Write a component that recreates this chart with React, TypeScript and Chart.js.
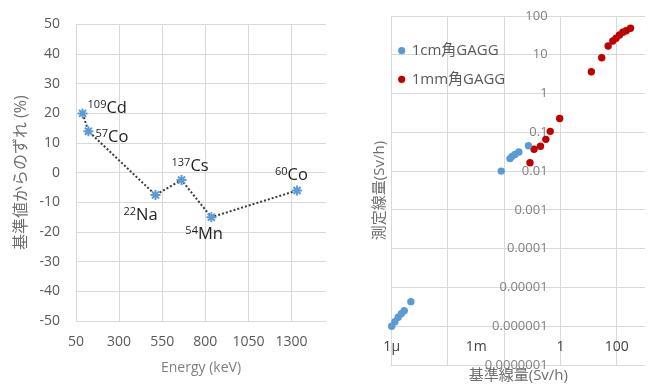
import React, { useEffect, useRef } from "react";
import { Chart, registerables } from "chart.js";
Chart.register(...registerables);

// ---------- Left chart data ----------
const energies = [88, 122, 511, 662, 835, 1332];
const deviations = [20, 14, -7.5, -2.5, -15, -6];
const massNumbers = ["109", "57", "22", "137", "54", "60"];
const elements = ["Cd", "Co", "Na", "Cs", "Mn", "Co"];
const energyTicks = [50, 300, 550, 800, 1050, 1300];
const deviationTicks = [50, 40, 30, 20, 10, 0, -10, -20, -30, -40, -50];

// ---------- Right chart data ----------
const ref1cm = [1e-6, 1.3e-6, 1.7e-6, 2.2e-6, 2.8e-6, 4.8e-6, 0.0078, 0.016, 0.019, 0.024, 0.033, 0.072];
const meas1cm = [1e-6, 1.3e-6, 1.7e-6, 2.1e-6, 2.5e-6, 4.3e-6, 0.01, 0.021, 0.024, 0.027, 0.031, 0.045];
const ref1mm = [0.082, 0.114, 0.193, 0.3, 0.43, 0.93, 12.4, 29, 49, 72, 94, 124, 164, 215, 306];
const meas1mm = [0.0165, 0.0365, 0.0437, 0.066, 0.106, 0.228, 3.66, 8.4, 16.8, 22.6, 26.6, 32.4, 38, 41.8, 48.2];
const doseGridX = [1e-6, 1e-4, 1e-2, 1, 100];
const doseLabelX = [1e-6, 1e-3, 1, 100];
const doseLabelXText = ["1µ", "1m", "1", "100"];
const doseTicksY = [100, 10, 1, 0.1, 0.01, 0.001, 0.0001, 0.00001, 0.000001, 0.0000001];
const doseTicksYText = ["100", "10", "1", "0.1", "0.01", "0.001", "0.0001", "0.00001", "0.000001", "0.0000001"];
const seriesNames = ["1cm角GAGG", "1mm角GAGG"];

// presentation: label offsets relative to point (dx to superscript start, dy to text middle)
const labelOffsets = [
  [5, -6], [7, 4.5], [-32, 19], [-10, -15], [-26, 15.5], [-22, -16],
];

const FONT = "'Open Sans', 'Noto Sans CJK JP', sans-serif";
const BLUE = "#5B9BD5";
const RED = "#C00000";
const GRID = "#d9d9d9";

const isotopeLabels = {
  id: "isotopeLabels",
  afterDatasetsDraw(chart: any) {
    const ctx = chart.ctx;
    const meta = chart.getDatasetMeta(0);
    ctx.save();
    ctx.fillStyle = "#1f1f1f";
    ctx.textBaseline = "alphabetic";
    ctx.textAlign = "left";
    meta.data.forEach((pt: any, i: number) => {
      const [dx, dy] = labelOffsets[i];
      const x = pt.x + dx;
      const base = pt.y + dy + 6;
      ctx.font = `11px ${FONT}`;
      ctx.fillText(massNumbers[i], x, base - 5);
      const w = ctx.measureText(massNumbers[i]).width;
      ctx.font = `16.5px ${FONT}`;
      ctx.fillText(elements[i], x + w, base);
    });
    ctx.restore();
  },
};

const doseAxisLabels = {
  id: "doseAxisLabels",
  beforeDatasetsDraw(chart: any) {
    const ctx = chart.ctx;
    const xs = chart.scales.x;
    const ys = chart.scales.y;
    ctx.save();
    ctx.font = `13px ${FONT}`;
    ctx.fillStyle = "#808080";
    ctx.textAlign = "right";
    ctx.textBaseline = "middle";
    const xr = xs.getPixelForValue(1) - 13;
    doseTicksY.forEach((v, i) => {
      ctx.fillText(doseTicksYText[i], xr, ys.getPixelForValue(v));
    });
    ctx.font = `14px ${FONT}`;
    ctx.fillStyle = "#404040";
    ctx.textAlign = "center";
    const yb = ys.getPixelForValue(1e-6) + 21;
    doseLabelX.forEach((v, i) => {
      ctx.fillText(doseLabelXText[i], xs.getPixelForValue(v), yb);
    });
    ctx.restore();
  },
};

const insideLegend = {
  id: "insideLegend",
  afterDraw(chart: any) {
    const ctx = chart.ctx;
    const { left, top } = chart.chartArea;
    const colors = [BLUE, RED];
    ctx.save();
    ctx.font = `15px ${FONT}`;
    ctx.textAlign = "left";
    ctx.textBaseline = "middle";
    seriesNames.forEach((name, i) => {
      const cy = top + 34.7 + i * 28.6;
      const cx = left + 10;
      ctx.fillStyle = colors[i];
      ctx.beginPath();
      ctx.arc(cx, cy, 3.6, 0, Math.PI * 2);
      ctx.fill();
      ctx.fillStyle = "#595959";
      ctx.fillText(name, cx + 10, cy);
    });
    ctx.restore();
  },
};

export default function App() {
  const leftRef = useRef<HTMLCanvasElement>(null);
  const rightRef = useRef<HTMLCanvasElement>(null);

  useEffect(() => {
    const left = new Chart(leftRef.current!, {
      type: "line",
      data: {
        datasets: [
          {
            data: energies.map((x, i) => ({ x, y: deviations[i] })),
            borderColor: "#3a3a3a",
            borderWidth: 2,
            borderDash: [2, 2],
            tension: 0,
            pointStyle: "star",
            pointRadius: 5,
            pointBorderColor: BLUE,
            pointBackgroundColor: BLUE,
            pointBorderWidth: 2,
            clip: false,
          },
        ],
      },
      options: {
        animation: false,
        responsive: false,
        layout: { padding: { top: 17, right: 9, left: 0, bottom: 0 } },
        plugins: { legend: { display: false }, tooltip: { enabled: false } },
        scales: {
          x: {
            type: "linear",
            min: 50,
            max: 1500,
            afterBuildTicks: (s: any) => {
              s.ticks = energyTicks.map((v) => ({ value: v }));
            },
            afterFit: (s: any) => {
              s.height = 64;
            },
            grid: { color: GRID, drawTicks: false },
            border: { display: false },
            ticks: {
              padding: 13,
              color: "#595959",
              font: { size: 14, family: FONT },
              maxRotation: 0,
              callback: (v: any) => String(v),
            },
            title: {
              display: true,
              text: "Energy (keV)",
              color: "#7f7f7f",
              font: { size: 14, family: FONT },
              padding: { top: 0, bottom: 8.6 },
            },
          },
          y: {
            type: "linear",
            min: -50,
            max: 50,
            afterBuildTicks: (s: any) => {
              s.ticks = deviationTicks.map((v) => ({ value: v }));
            },
            afterFit: (s: any) => {
              s.width = 76;
            },
            grid: { color: GRID, drawTicks: false },
            border: { display: false },
            ticks: { padding: 16, color: "#595959", font: { size: 14, family: FONT }, callback: (v: any) => String(v) },
            title: {
              display: true,
              text: "基準値からのずれ (%)",
              color: "#6e6e6e",
              font: { size: 16, family: FONT },
              padding: { top: 11.4, bottom: 0 },
            },
          },
        },
      },
      plugins: [isotopeLabels],
    } as any);

    const right = new Chart(rightRef.current!, {
      type: "scatter",
      data: {
        datasets: [
          {
            label: seriesNames[0],
            data: ref1cm.map((x, i) => ({ x, y: meas1cm[i] })),
            backgroundColor: BLUE,
            borderColor: BLUE,
            pointRadius: 3.7,
            borderWidth: 0,
            clip: false,
          },
          {
            label: seriesNames[1],
            data: ref1mm.map((x, i) => ({ x, y: meas1mm[i] })),
            backgroundColor: RED,
            borderColor: RED,
            pointRadius: 3.7,
            borderWidth: 0,
            clip: false,
          },
        ],
      },
      options: {
        animation: false,
        responsive: false,
        layout: { padding: { top: 16, right: 6, left: 0, bottom: 0 } },
        plugins: { legend: { display: false }, tooltip: { enabled: false } },
        scales: {
          x: {
            type: "logarithmic",
            min: 1e-6,
            max: 1000,
            afterBuildTicks: (s: any) => {
              s.ticks = doseGridX.map((v) => ({ value: v }));
            },
            afterFit: (s: any) => {
              s.height = 20;
            },
            grid: { color: GRID, drawTicks: false },
            border: { display: false },
            ticks: { display: false },
            title: {
              display: true,
              text: "基準線量(Sv/h)",
              color: "#6e6e6e",
              font: { size: 15, family: FONT },
              padding: { top: 0, bottom: 0.5 },
            },
          },
          y: {
            type: "logarithmic",
            min: 1e-7,
            max: 100,
            afterBuildTicks: (s: any) => {
              s.ticks = doseTicksY.map((v) => ({ value: v }));
            },
            afterFit: (s: any) => {
              s.width = 56.7;
            },
            grid: { color: GRID, drawTicks: false },
            border: { display: true, color: GRID },
            ticks: { display: false },
            title: {
              display: true,
              text: "測定線量(Sv/h)",
              color: "#6e6e6e",
              font: { size: 15, family: FONT },
              padding: { top: 36, bottom: 0 },
            },
          },
        },
      },
      plugins: [doseAxisLabels, insideLegend],
    } as any);

    return () => {
      left.destroy();
      right.destroy();
    };
  }, []);

  return (
    <div style={{ position: "absolute", left: 0, top: 0, width: 651, height: 385, background: "#fff" }}>
      <canvas ref={leftRef} width={335} height={385} style={{ position: "absolute", left: 0, top: 0 }} />
      <canvas ref={rightRef} width={316} height={385} style={{ position: "absolute", left: 335, top: 0 }} />
    </div>
  );
}
